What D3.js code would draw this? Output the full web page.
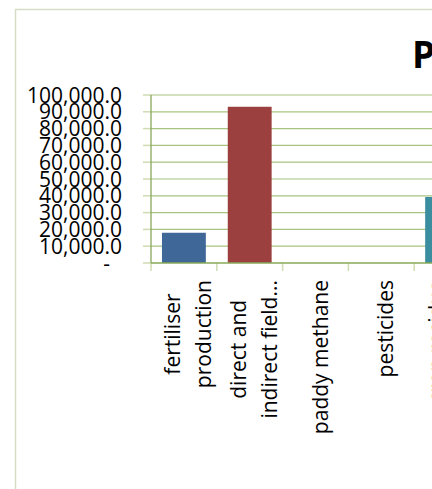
<!DOCTYPE html>
<html>
<head>
<meta charset="utf-8">
<script src="https://cdn.jsdelivr.net/npm/d3@7"></script>
<style>
  html, body { margin: 0; padding: 0; background: #fff; overflow: hidden; }
  svg { display: block; font-family: "Open Sans", sans-serif; }
</style>
</head>
<body>
<script>
// ---- data ----
const categories = ["fertiliser production", "direct and indirect field...", "paddy methane", "pesticides", "crop residue burning"];
const labelLines = [["fertiliser", "production"], ["direct and", "indirect field..."], ["paddy methane"], ["pesticides"], ["crop residue", "burning"]];
const values = [18000, 93000, 0, 0, 39300];
const barColors = ["#3f6899", "#9b403e", "#3b8da0"];
const yTicks = [0, 10000, 20000, 30000, 40000, 50000, 60000, 70000, 80000, 90000, 100000];
const titleText = "P";

// ---- layout ----
const W = 432, H = 489;
const svg = d3.select("body").append("svg").attr("width", W).attr("height", H);
svg.append("rect").attr("width", W).attr("height", H).attr("fill", "#fff");

// chart border
svg.append("rect").attr("x", 15.5).attr("y", 9.5).attr("width", 600).attr("height", 600)
  .attr("fill", "none").attr("stroke", "#d5ddc6").attr("stroke-width", 1.5);

const plotL = 151, plotT = 95, plotB = 263, step = 65.8;
const y = d3.scaleLinear().domain([0, 100000]).range([plotB, plotT]);
const x = d3.scaleBand().domain(categories).range([plotL, plotL + step * categories.length])
  .paddingInner(1 / 3).paddingOuter(1 / 6);

// title
svg.append("text").attr("x", 412).attr("y", 68).attr("font-size", 37).attr("font-weight", "bold")
  .attr("fill", "#000").text(titleText);

// gridlines
svg.append("g").selectAll("line").data(yTicks).join("line")
  .attr("x1", plotL).attr("x2", W + 50)
  .attr("y1", d => y(d)).attr("y2", d => y(d))
  .attr("stroke", d => d === 0 ? "none" : "#a8c47f").attr("stroke-width", 1.2);

// y ticks (outside)
svg.append("g").selectAll("line").data(yTicks).join("line")
  .attr("x1", plotL - 8).attr("x2", plotL)
  .attr("y1", d => y(d)).attr("y2", d => y(d))
  .attr("stroke", "#cfdcb3").attr("stroke-width", 1.5);

// y labels
svg.append("g").selectAll("text").data(yTicks).join("text")
  .attr("x", plotL - 29).attr("y", d => y(d)).attr("dy", "0.36em")
  .attr("dx", d => d === 0 ? -12 : 0)
  .attr("text-anchor", "end").attr("font-size", 21).attr("fill", "#000")
  .text(d => d === 0 ? "-" : d3.format(",.1f")(d));

// bars
svg.append("g").selectAll("rect").data(values).join("rect")
  .attr("x", (d, i) => x(categories[i])).attr("width", x.bandwidth())
  .attr("y", d => y(d)).attr("height", d => plotB - y(d))
  .attr("fill", (d, i) => barColors[i === 4 ? 2 : i % 2]);

// x ticks at band boundaries
const bounds = categories.map(c => x(c) - x.step() * x.paddingInner() / 2);
svg.append("g").selectAll("line").data(bounds).join("line")
  .attr("x1", d => d).attr("x2", d => d).attr("y1", plotB).attr("y2", plotB + 8)
  .attr("stroke", "#cfdcb3").attr("stroke-width", 1.5);

// axis lines
svg.append("line").attr("x1", plotL).attr("x2", plotL).attr("y1", plotT).attr("y2", plotB)
  .attr("stroke", "#88a858").attr("stroke-width", 1.3);
svg.append("line").attr("x1", plotL).attr("x2", W + 50).attr("y1", plotB).attr("y2", plotB)
  .attr("stroke", "#88a858").attr("stroke-width", 1.3);

// category labels (rotated, centered lines, block top-aligned)
const labelTop = 280, lineGap = 31;
categories.forEach((c, i) => {
  const lines = labelLines[i];
  const cx = x(c) + x.bandwidth() / 2;
  const g = svg.append("g");
  const texts = lines.map((ln, j) => g.append("text").attr("font-size", 21).attr("fill", "#000")
    .attr("text-anchor", "middle").text(ln));
  const maxW = d3.max(texts, t => t.node().getComputedTextLength());
  const cy = labelTop + maxW / 2;
  texts.forEach((t, j) => {
    const off = 12 + (j - (lines.length - 1) / 2) * lineGap;
    t.attr("transform", `translate(${cx + off},${cy}) rotate(-90)`);
  });
});
</script>
</body>
</html>
